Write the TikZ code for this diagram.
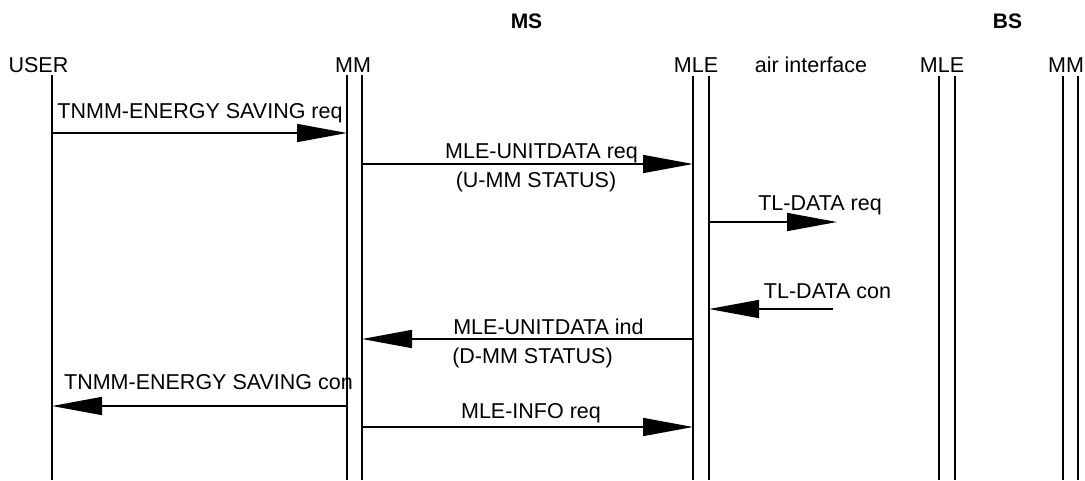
\documentclass[tikz,border=0pt]{standalone}
\usepackage{fontspec}
\setmainfont{Liberation Sans}
\usetikzlibrary{arrows.meta}
\begin{document}
\begin{tikzpicture}[x=1pt,y=-1pt,
  lbl/.style={inner sep=0pt,anchor=base,font=\fontsize{21.5}{25}\selectfont},
  hdr/.style={inner sep=0pt,anchor=base,font=\fontsize{21}{25}\selectfont\bfseries},
  life/.style={line width=1.6pt},
  msg/.style={line width=1.6pt,-{Triangle[length=50pt,width=18pt]}}]
\useasboundingbox (0,0) rectangle (1085,480);
% group headers
\node[hdr] (ms) at (526.5,28) {MS};
\node[hdr] (bs) at (1007.5,28) {BS};
% entity labels
\node[lbl] (user) at (38.5,72) {USER};
\node[lbl] (mm1) at (353,72) {MM};
\node[lbl] (mle1) at (696,72) {MLE};
\node[lbl] (air) at (811,72) {air interface};
\node[lbl] (mle2) at (942,72) {MLE};
\node[lbl] (mm2) at (1066,72) {MM};
% lifelines
\coordinate (uT) at (52,75);   \coordinate (uB) at (52,480);
\coordinate (aT) at (347,75);  \coordinate (aB) at (347,480);
\coordinate (bT) at (362,75);  \coordinate (bB) at (362,480);
\coordinate (cT) at (693,76);  \coordinate (cB) at (693,480);
\coordinate (dT) at (709,76);  \coordinate (dB) at (709,480);
\coordinate (eT) at (939,76);  \coordinate (eB) at (939,480);
\coordinate (fT) at (955,76);  \coordinate (fB) at (955,480);
\coordinate (gT) at (1063,76); \coordinate (gB) at (1063,480);
\coordinate (hT) at (1078,76); \coordinate (hB) at (1078,480);
\foreach \p in {u,a,b,c,d,e,f,g,h} \draw[life] (\p T) -- (\p B);
% message endpoints
\coordinate (m1s) at (52,133);  \coordinate (m1e) at (347,133);
\coordinate (m2s) at (362,164); \coordinate (m2e) at (693,164);
\coordinate (m3s) at (709,222); \coordinate (m3e) at (837,222);
\coordinate (m4s) at (833,309); \coordinate (m4e) at (709,309);
\coordinate (m5s) at (693,339); \coordinate (m5e) at (362,339);
\coordinate (m6s) at (347,406); \coordinate (m6e) at (52,406);
\coordinate (m7s) at (362,427); \coordinate (m7e) at (693,427);
\draw[msg] (m1s) -- (m1e);
\draw[msg] (m2s) -- (m2e);
\draw[msg] (m3s) -- (m3e);
\draw[msg] (m4s) -- (m4e);
\draw[msg] (m5s) -- (m5e);
\draw[msg] (m6s) -- (m6e);
\draw[msg] (m7s) -- (m7e);
% message labels
\node[lbl] (l1) at (200,118) {TNMM-ENERGY SAVING req};
\node[lbl] (l2) at (541.5,158) {MLE-UNITDATA req};
\node[lbl] (l2b) at (536,187) {(U-MM STATUS)};
\node[lbl] (l3) at (820,210) {TL-DATA req};
\node[lbl] (l4) at (827.5,298) {TL-DATA con};
\node[lbl] (l5) at (548.5,334) {MLE-UNITDATA ind};
\node[lbl] (l5b) at (532.5,363) {(D-MM STATUS)};
\node[lbl] (l6) at (208.5,389) {TNMM-ENERGY SAVING con};
\node[lbl] (l7) at (531,418) {MLE-INFO req};
\end{tikzpicture}
\end{document}
